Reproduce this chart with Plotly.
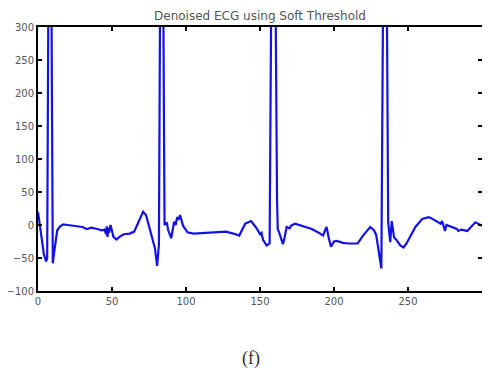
import plotly.graph_objects as go

# Sample index (x) and denoised amplitude (y)
x_vals = [0, 2, 4, 5.5, 6.2, 8, 10, 11, 13, 15, 17, 20, 25, 30, 33, 36, 40, 43, 45,
          46, 46.5, 47, 47.5, 48, 49, 50, 51, 53, 55, 58, 62, 65, 68, 71, 73, 75, 77, 79,
          80.5, 81.7, 83.5, 85.5, 87, 88, 90, 92, 93, 94, 95, 96, 98, 101, 105, 114, 120,
          127, 132, 136, 140, 144, 146, 148, 150, 151, 152, 154.5, 156.5, 159, 161.5, 162,
          163, 165.5, 166.5, 168, 170, 171, 173.7, 180, 185, 190, 192.6, 194, 195, 196.5,
          198, 200, 202, 206, 210, 216, 220, 224.5, 227, 228.5, 230, 232, 234.5, 236.6,
          238, 239, 240.6, 242, 244.8, 247, 249, 252, 255, 259.6, 264, 266, 272, 273, 274,
          275, 276, 283, 284, 286, 290, 295.5, 300]
y_vals = [20, -10, -45, -55, -50, 820, -58, -40, -8, -2, 1, 0, -2, -3, -6, -4, -6, -8, -7,
          -14, -2, -18, -4, -12, 0, -10, -18, -22, -18, -14, -13, -10, 5, 20, 15, -3, -18, -35,
          -62, -30, 820, 0, 4, -8, -20, 5, 0, 12, 8, 15, -1, -11, -13, -12, -11,
          -10, -13, -16, 2, 6, 0, -6, -14, -12, -22, -31, -28, 820, 39, -6,
          -12, -29, -20, -3, -5, -1, 2, -2, -6, -12, -16, -8, -3, -20,
          -33, -25, -24, -27, -28, -28, -15, -3, -8, -15, -36, -66, 820, 4,
          -26, 6, -19, -22, -31, -34, -28, -15, -3, 9, 12, 10, 2, 6, -2,
          -9, 0, -6, -9, -7, -9, 4, -1]

x_ticks = [0, 50, 100, 150, 200, 250, 300]
y_ticks = [-100, -50, 0, 50, 100, 150, 200, 250, 300]

title_text = "Denoised ECG using Soft Threshold"
caption_text = "(f)"

fig = go.Figure()
fig.add_trace(go.Scatter(x=x_vals, y=y_vals, mode="lines",
                         line=dict(color="#1212e6", width=2.2), showlegend=False))

axis_common = dict(showline=True, linecolor="black", linewidth=2, mirror="ticks",
                   ticks="inside", ticklen=4, tickcolor="black", tickwidth=1.5,
                   showgrid=False, zeroline=False, automargin=False,
                   tickfont=dict(family="DejaVu Sans", size=10, color="#555555"))

fig.update_xaxes(range=[0, 300], tickvals=x_ticks, **axis_common)
fig.update_yaxes(range=[-100, 300], tickvals=y_ticks, ticklabelstandoff=0, **axis_common)

# page has an 8px body margin, so the figure is shifted by 8px
fig.update_layout(
    width=482, height=362,
    margin=dict(l=30, r=8, t=19, b=79),
    paper_bgcolor="white", plot_bgcolor="white",
    title=dict(text=title_text, x=0.5, xref="paper", y=1 - 8 / 362, yanchor="middle",
               automargin=False,
               font=dict(family="DejaVu Sans", size=12, color="#555555")),
    annotations=[dict(text=caption_text, xref="paper", yref="paper", x=0.48, y=-0.254,
                      showarrow=False, yanchor="middle",
                      font=dict(family="Liberation Serif", size=18, color="#333333"))],
)

fig.write_html("out.html")
